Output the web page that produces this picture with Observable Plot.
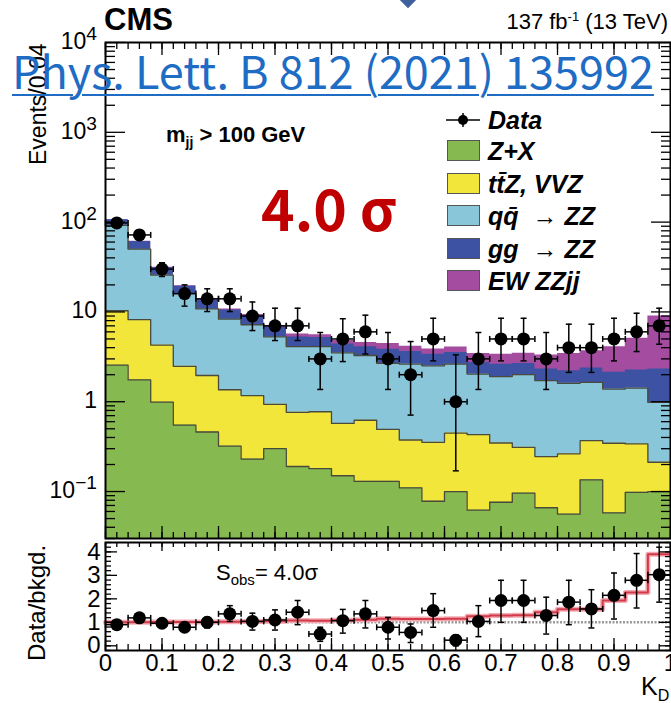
<!DOCTYPE html>
<html>
<head>
<meta charset="utf-8">
<script src="https://cdn.jsdelivr.net/npm/d3@7"></script>
<script src="https://cdn.jsdelivr.net/npm/@observablehq/plot@0.6"></script>
<style>
  body { margin: 0; background: #fff; }
  #wrap { position: relative; width: 671px; height: 703px; overflow: hidden;
          font-family: "Liberation Sans", Arial, sans-serif; color: #000; }
  .abs { position: absolute; white-space: nowrap; line-height: 1; }
  .abs svg { display: block; }
  svg.abs { overflow: visible; }
  sub, sup { line-height: 0; }
  .leg-box { position: absolute; width: 33px; height: 21px; border: 1px solid #555; box-sizing: border-box; }
  .leg-txt { position: absolute; font-weight: bold; font-style: italic; font-size: 25px; white-space: nowrap; line-height: 1; }
</style>
</head>
<body>
<div id="wrap"></div>
<script>
// K_D bin centres (bin width 0.04)
const kd = [0.02, 0.06, 0.10, 0.14, 0.18, 0.22, 0.26, 0.30, 0.34, 0.38, 0.42, 0.46, 0.50,
            0.54, 0.58, 0.62, 0.66, 0.70, 0.74, 0.78, 0.82, 0.86, 0.90, 0.94, 0.98];
const binHalf = 0.02;

// Expected events per bin, by process (stacked bottom to top)
const zPlusX = [2.55, 1.75, 0.99, 0.55, 0.46, 0.32, 0.23, 0.30, 0.19, 0.18, 0.15, 0.13, 0.13,
                0.11, 0.078, 0.10, 0.062, 0.076, 0.096, 0.066, 0.056, 0.135, 0.058, 0.098, 0.10];
const ttZVVZ = [7.75, 6.45, 3.28, 1.93, 1.50, 1.04, 0.94, 0.635, 0.573, 0.594, 0.424, 0.492, 0.362,
                0.265, 0.275, 0.348, 0.369, 0.271, 0.215, 0.179, 0.207, 0.234, 0.287, 0.241, 0.112];
const qqZZ   = [81.7, 41.8, 21.4, 13.5, 8.84, 6.94, 6.03, 4.33, 3.34, 3.33, 2.93, 2.65, 2.18,
                2.25, 2.16, 2.17, 1.60, 1.56, 1.69, 1.47, 1.34, 1.27, 1.04, 1.08, 0.77];
const ggZZ   = [14.0, 10.7, 5.4, 3.3, 2.7, 2.2, 1.85, 1.5, 1.16, 1.1, 0.9, 0.83, 1.18,
                1.0, 0.87, 0.91, 0.71, 0.71, 0.67, 0.60, 0.61, 0.73, 0.74, 0.83, 1.33];
const ewZZjj = [0.5, 0.4, 0.3, 0.3, 0.25, 0.25, 0.3, 0.3, 0.4, 0.35, 0.4, 0.45, 0.6,
                0.53, 0.47, 0.55, 0.7, 0.76, 0.8, 1.0, 1.24, 1.33, 1.98, 2.85, 6.7];

// Observed events and their error band
const dataN  = [98, 72, 30, 16, 14, 14, 9, 7, 7, 3, 5, 6, 3, 2, 5, 1, 3, 5, 5, 3, 4, 4, 5, 6, 7];
const dataLo = [89, 64, 24.8, 11.6, 10.1, 10.1, 6.2, 4.8, 4.8, 1.37, 2.8, 3.4, 1.37,
                0.71, 2.85, 0.17, 1.37, 2.85, 2.85, 1.37, 2.12, 2.12, 2.85, 3.62, 4.37];
const dataHi = [108, 81, 35.3, 20.0, 18.1, 18.1, 12.9, 11, 11, 5.9, 8.4, 9.2, 5.9,
                4.68, 8.5, 3.33, 5.9, 8.5, 8.5, 5.9, 7.3, 7.3, 8.5, 9.67, 11];

// Data / background ratio
const ratio   = [0.9, 1.19, 0.96, 0.79, 1.0, 1.36, 1.04, 1.1, 1.43, 0.5, 1.07, 1.36, 0.79,
                 0.57, 1.5, 0.24, 1.04, 1.93, 1.93, 1.29, 1.86, 1.57, 2.15, 2.79, 3.03];
const ratioLo = [0.82, 1.08, 0.87, 0.68, 0.76, 1.04, 0.67, 0.67, 0.90, 0.19, 0.54, 0.76, 0.29,
                 0.14, 0.79, 0.0, 0.39, 1.0, 1.0, 0.5, 0.9, 0.76, 1.14, 1.61, 1.86];
const ratioHi = [0.98, 1.3, 1.05, 0.9, 1.21, 1.71, 1.39, 1.53, 1.93, 0.79, 1.55, 1.93, 1.21,
                 0.93, 2.22, 0.47, 1.71, 2.79, 2.79, 2.07, 2.79, 2.39, 3.1, 3.93, 4.2];

// Axis ticks
const logMajor = [0.1, 1, 10, 100, 1000, 10000];
const logLabels = ["10<sup>\u22121</sup>", "1", "10", "10<sup>2</sup>", "10<sup>3</sup>", "10<sup>4</sup>"];
const xMajor = [0, 0.1, 0.2, 0.3, 0.4, 0.5, 0.6, 0.7, 0.8, 0.9, 1];
const xLabels = ["0", "0.1", "0.2", "0.3", "0.4", "0.5", "0.6", "0.7", "0.8", "0.9", "1"];
const ratioMajor = [0, 1, 2, 3, 4];
const ratioLabels = ["0", "1", "2", "3", "4"];

const colors = {
  zx: "#86b94f", ttz: "#f3e63b", qq: "#8ac6da", gg: "#3d52a3", ew: "#a34ca0"
};

const yFloor = 0.03;
const layers = [
  {key: "ew"}, {key: "gg"}, {key: "qq"}, {key: "ttz"}, {key: "zx"}
];
// cumulative tops, bottom-up
const order = [zPlusX, ttZVVZ, qqZZ, ggZZ, ewZZjj];
const cum = [];
order.forEach((arr, j) => cum.push(arr.map((v, i) => v + (j ? cum[j - 1][i] : 0))));
const topOf = {zx: cum[0], ttz: cum[1], qq: cum[2], gg: cum[3], ew: cum[4]};

function stepPoints(tops) {
  const pts = kd.map((c, i) => ({x: c - binHalf, top: tops[i]}));
  pts.push({x: kd[kd.length - 1] + binHalf, top: tops[tops.length - 1]});
  return pts;
}

const rows = kd.map((c, i) => ({kd: c, n: dataN[i], lo: dataLo[i], hi: dataHi[i],
  r: ratio[i], rlo: ratioLo[i], rhi: ratioHi[i]}));

// (signal + background) / background
const sigRatio = cum[4].map((t, i) => t / cum[3][i]);

// cap glyphs for error bars
const hcap = {draw(ctx, size) { const w = Math.sqrt(size / Math.PI); ctx.moveTo(-w, 0); ctx.lineTo(w, 0); }};
const vcap = {draw(ctx, size) { const w = Math.sqrt(size / Math.PI); ctx.moveTo(0, -w); ctx.lineTo(0, w); }};

function range(a, b, s) { return d3.range(Math.round((b - a) / s) + 1).map(k => +(a + k * s).toFixed(4)); }
const logMinor = [];
[0.01, 0.1, 1, 10, 100, 1000].forEach(d => { for (let m = 2; m <= 9; m++) { const v = m * d; if (v >= yFloor && v < 1e4) logMinor.push(v); } });
const xMinor = range(0, 1, 0.02);
const rMinor = range(-0.2, 4.4, 0.2);

const empty = () => "";
function inTicks(scale, anchor, ticks, size) {
  const opt = {anchor, ticks, tickSize: size, tickFormat: empty, label: null, strokeWidth: 1.3};
  if (scale === "y") { opt.dx = anchor === "left" ? size : -size; return Plot.axisY(opt); }
  opt.dy = anchor === "bottom" ? -size : size; return Plot.axisX(opt);
}

const dataMarks = (yKey, loKey, hiKey, r, cap) => [
  Plot.ruleY(rows, {x1: d => d.kd - binHalf, x2: d => d.kd + binHalf, y: yKey, stroke: "#000", strokeWidth: 1.5}),
  Plot.ruleX(rows, {x: "kd", y1: loKey, y2: hiKey, stroke: "#000", strokeWidth: 1.5}),
  Plot.dot(rows, {x: "kd", y: loKey, symbol: hcap, r: cap, stroke: "#000", strokeWidth: 1.5}),
  Plot.dot(rows, {x: "kd", y: hiKey, symbol: hcap, r: cap, stroke: "#000", strokeWidth: 1.5}),
  Plot.dot(rows, {x: d => d.kd - binHalf, y: yKey, symbol: vcap, r: cap, stroke: "#000", strokeWidth: 1.5}),
  Plot.dot(rows, {x: d => d.kd + binHalf, y: yKey, symbol: vcap, r: cap, stroke: "#000", strokeWidth: 1.5}),
  Plot.dot(rows, {x: "kd", y: yKey, r: r, fill: "#000", stroke: "none"})
];

const main = Plot.plot({
  width: 671, height: 540,
  marginLeft: 105, marginRight: 1, marginTop: 42, marginBottom: 2,
  x: {domain: [0, 1], label: null, axis: null},
  y: {type: "log", domain: [yFloor, 1e4], label: null, axis: null},
  marks: [
    ...layers.map(L => Plot.areaY(stepPoints(topOf[L.key]), {
      x: "x", y1: () => yFloor, y2: "top", curve: "step-after", fill: colors[L.key]
    })),
    ...["zx", "ttz", "qq"].map(k => Plot.line(stepPoints(topOf[k]), {
      x: "x", y: "top", curve: "step-after", stroke: "#4a4a3c", strokeWidth: 1.3
    })),
    ...dataMarks("n", "lo", "hi", 6.5, 3),
    inTicks("y", "left", logMajor, 20), inTicks("y", "left", logMinor, 10),
    inTicks("y", "right", logMajor, 20), inTicks("y", "right", logMinor, 10),
    inTicks("x", "bottom", xMajor, 12), inTicks("x", "bottom", xMinor, 6),
    inTicks("x", "top", xMajor, 12), inTicks("x", "top", xMinor, 6),
    Plot.frame({stroke: "#000", strokeWidth: 2})
  ]
});

const lower = Plot.plot({
  width: 671, height: 163,
  marginLeft: 105, marginRight: 1, marginTop: 2, marginBottom: 53,
  style: {fontFamily: "Liberation Sans, Arial, sans-serif", fontSize: "24px", color: "#000", overflow: "visible"},
  x: {domain: [0, 1], label: null, axis: null},
  y: {domain: [-0.2, 4.4], label: null, axis: null},
  marks: [
    Plot.ruleY([1], {stroke: "#9a9a9a", strokeWidth: 2.5, strokeDasharray: "2,1.5"}),
    Plot.line(stepPoints(sigRatio), {x: "x", y: "top", curve: "step-after", stroke: "#f3aab2", strokeWidth: 5}),
    Plot.line(stepPoints(sigRatio), {x: "x", y: "top", curve: "step-after", stroke: "#d23a4a", strokeWidth: 2}),
    ...dataMarks("r", "rlo", "rhi", 6.5, 3),
    inTicks("y", "left", ratioMajor, 12), inTicks("y", "left", rMinor, 6),
    inTicks("y", "right", ratioMajor, 12), inTicks("y", "right", rMinor, 6),
    inTicks("x", "bottom", xMajor, 12), inTicks("x", "bottom", xMinor, 6),
    inTicks("x", "top", xMajor, 8), inTicks("x", "top", xMinor, 4),
    Plot.axisY({anchor: "left", ticks: ratioMajor, tickSize: 0, tickPadding: 5, label: null, fontSize: 24,
                tickFormat: (d) => ratioLabels[ratioMajor.indexOf(d)]}),
    Plot.axisX({anchor: "bottom", ticks: xMajor, tickSize: 0, tickPadding: 3, label: null, fontSize: 24,
                tickFormat: (d) => xLabels[xMajor.indexOf(d)]}),
    Plot.frame({stroke: "#000", strokeWidth: 2})
  ]
});

const wrap = document.getElementById("wrap");
function place(el, left, top) { el.classList.add("abs"); el.style.left = left + "px"; el.style.top = top + "px"; wrap.appendChild(el); return el; }
function html(tag, content, css) { const e = document.createElement(tag); e.innerHTML = content; Object.assign(e.style, css || {}); return e; }

place(main, 0, 0);
place(lower, 0, 540);

// decade labels of the log axis
const ys = main.scale("y");
logMajor.forEach((v, i) => {
  const e = html("div", logLabels[i], {fontSize: "23px", width: "70px", textAlign: "right"});
  place(e, 27, ys.apply(v) - 12);
});

// header texts
place(html("div", "<b>CMS</b>", {fontSize: "31px"}), 104, 4);
place(html("div", "137 fb<sup style='font-size:13px'>-1</sup> (13 TeV)", {fontSize: "22px", width: "300px", textAlign: "right"}), 368, 11);
place(html("div", "", {width: "20px", height: "20px", background: "#3f5f9e", transform: "rotate(45deg)"}), 398, -16);

// axis titles
place(html("div", "Events/0.04", {fontSize: "23px", transform: "rotate(-90deg)", transformOrigin: "0 0"}), 27, 165);
place(html("div", "Data/bkgd.", {fontSize: "24px", transform: "rotate(-90deg)", transformOrigin: "0 0"}), 25, 661);
place(html("div", "K<sub style='font-size:16px'>D</sub>", {fontSize: "25px"}), 641, 674);

// annotations
place(html("div", "<b>m<sub style='font-size:14px'>jj</sub> &gt; 100 GeV</b>", {fontSize: "22px"}), 166, 124);
place(html("div", "4.0 \u03c3", {fontSize: "57px", fontWeight: "bold", color: "#c00000",
  fontFamily: "'Noto Sans CJK SC', 'Liberation Sans', sans-serif"}), 261, 178);
place(html("div", "S<sub style='font-size:15px'>obs</sub>= 4.0\u03c3", {fontSize: "22px"}), 216, 562);

// legend
const legend = [
  {label: "Z+X", color: colors.zx},
  {label: "t\u0074\u0304Z, VVZ", color: colors.ttz},
  {label: "q\u0071\u0304 &nbsp;\u2192 ZZ", color: colors.qq},
  {label: "gg &nbsp;\u2192 ZZ", color: colors.gg},
  {label: "EW ZZjj", color: colors.ew}
];
const dataGlyph = html("div", "", {width: "34px", height: "14px"});
dataGlyph.innerHTML = "<svg width='34' height='14'><line x1='0' y1='7' x2='34' y2='7' stroke='#000' stroke-width='1.5'/><line x1='17' y1='0' x2='17' y2='14' stroke='#000' stroke-width='1.5'/><circle cx='17' cy='7' r='5' fill='#000'/></svg>";
place(dataGlyph, 446, 113);
const dt = html("div", "Data"); dt.className = "leg-txt"; place(dt, 488, 108);
legend.forEach((L, i) => {
  const b = document.createElement("div"); b.className = "leg-box"; b.style.background = L.color;
  place(b, 447, 140 + i * 32.5);
  const t = html("div", L.label); t.className = "leg-txt"; place(t, 488, 139 + i * 32.5);
});

// journal reference
place(html("div", "Phys. Lett. B 812 (2021) 135992", {
  fontFamily: "'Noto Sans CJK SC', sans-serif", fontSize: "45px", color: "#1f6cc4",
  textDecoration: "underline", textDecorationThickness: "2px", textUnderlineOffset: "5px", lineHeight: "1"
}), 12, 47);
</script>
</body>
</html>
